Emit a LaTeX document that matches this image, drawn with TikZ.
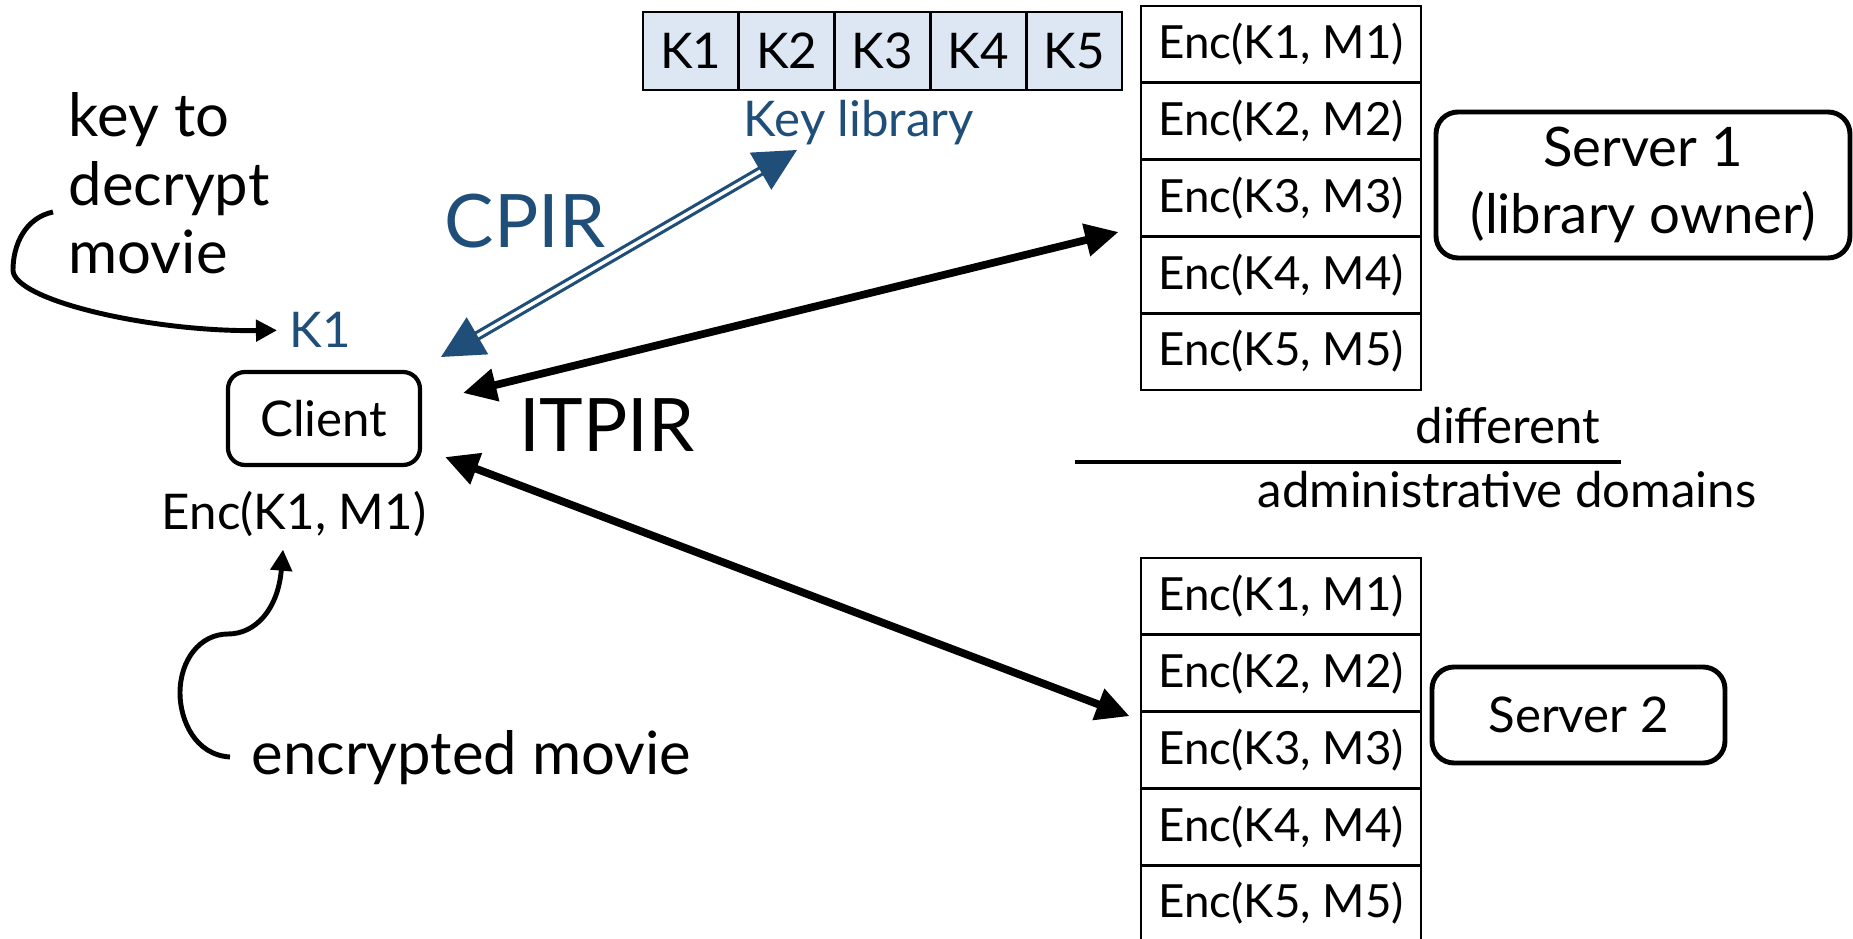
\documentclass[tikz,border=0pt]{standalone}
\usepackage{fontspec}
\setmainfont{Lato}
\usetikzlibrary{arrows.meta}
\definecolor{keyblue}{RGB}{31,78,121}
\definecolor{keyfill}{RGB}{221,231,244}
\tikzset{
  keycell/.style={draw, line width=0.8pt, fill=keyfill, minimum width=9.58mm, minimum height=7.8mm, inner sep=0pt},
  enccell/.style={draw, line width=0.8pt, minimum width=28mm, minimum height=7.68mm, inner sep=0pt, font=\fontsize{13}{16}\selectfont},
  roundbox/.style={draw, line width=1.4pt, rounded corners=2.2mm, align=center, inner sep=0pt},
  bigtext/.style={font=\fontsize{17}{19.5}\selectfont},
  hugetext/.style={font=\fontsize{21}{25}\selectfont},
  itpir/.style={line width=2.2pt, {Triangle[length=9.5pt,width=9pt]}-{Triangle[length=9.5pt,width=9pt]}},
  cpir/.style={draw=keyblue, double, line width=0.9pt, double distance=1pt, {Triangle[length=12pt,width=12pt]}-{Triangle[length=12pt,width=12pt]}},
  note/.style={line width=1.4pt, -{Triangle[length=6pt,width=6pt]}}
}
\begin{document}
\begin{tikzpicture}[font=\fontsize{14}{17}\selectfont]
	\useasboundingbox (0,0) rectangle (18.53,-9.39);
	% key library
	\foreach \i in {1,...,5}
		\node (k\i) [keycell] at ({6.43+0.958*\i-0.479},-0.51) {K\i};
	\node (keylib) [anchor=base, text=keyblue] at (8.59,-1.37) {Key library};
	% movie tables of the two servers
	\foreach \i in {1,...,5} {
		\node (a\i) [enccell] at (12.81,{-0.06-0.768*\i+0.384}) {Enc(K\i, M\i)};
		\node (b\i) [enccell] at (12.81,{-5.58-0.768*\i+0.384}) {Enc(K\i, M\i)};
	}
	\node (srv1) [roundbox, font=\fontsize{15.5}{19}\selectfont, minimum width=41.4mm, minimum height=14.6mm] at (16.43,-1.85) {Server 1\\(library owner)};
	\node (srv2) [roundbox, minimum width=29.3mm, minimum height=9.6mm] at (15.785,-7.15) {Server 2};
	\node (client) [roundbox, rounded corners=1.7mm, line width=1.2pt, minimum width=19.2mm, minimum height=9.3mm] at (3.24,-4.185) {Client};
	\node (key) [anchor=base, text=keyblue] at (3.20,-3.48) {K1};
	\node (enc) [anchor=base] at (2.94,-5.30) {Enc(K1, M1)};
	\node (keynote) [bigtext, anchor=north west, align=left, inner sep=0pt] at (0.68,-0.92) {key to\\decrypt\\movie};
	\node (encnote) [bigtext, anchor=base west, inner sep=0pt] at (2.51,-7.75) {encrypted movie};
	\node (cpirlbl) [hugetext, anchor=base, text=keyblue] at (5.25,-2.48) {CPIR};
	\node (itpirlbl) [hugetext, anchor=base] at (6.07,-4.52) {ITPIR};
	\node (diff) [anchor=base] at (15.08,-4.44) {different};
	\node (admin) [anchor=base] at (15.07,-5.08) {administrative domains};
	\draw[line width=1.4pt] (10.75,-4.62) -- (16.21,-4.62);
	% arrows
	\coordinate (cpirlow) at (4.41,-3.57);
	\coordinate (cpirhigh) at (7.97,-1.50);
	\draw[cpir] (cpirlow) -- (cpirhigh);
	\coordinate (itpir1) at (4.63,-3.93);
	\coordinate (itpir2) at (4.45,-4.57);
	\draw[itpir] (itpir1) -- ([shift={(-0.21,0.03)}]a4.north west);
	\draw[itpir] (itpir2) -- ([shift={(-0.10,-0.06)}]b3.north west);
	\coordinate (keytail) at (0.53,-2.12);
	\draw[note] (keytail) .. controls (0.25,-2.18) and (0.13,-2.45) .. (0.13,-2.70)
		.. controls (0.13,-3.0) and (1.5,-3.32) .. (key.west);
	\coordinate (enctail) at (2.30,-7.57);
	\draw[note] (enctail) .. controls (1.95,-7.55) and (1.80,-7.2) .. (1.80,-6.93)
		.. controls (1.80,-6.6) and (2.0,-6.34) .. (2.28,-6.34)
		.. controls (2.55,-6.34) and (2.78,-6.1) .. ([xshift=-1.1mm]enc.south);
\end{tikzpicture}
\end{document}
